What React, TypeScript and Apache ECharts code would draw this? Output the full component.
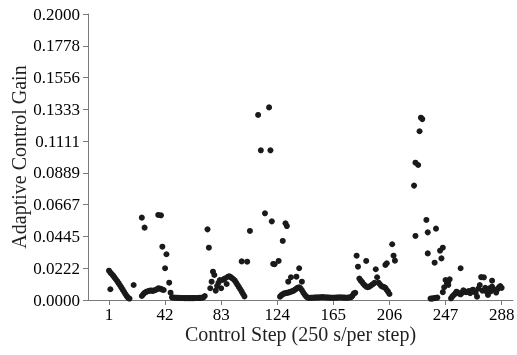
import React, { useEffect, useRef } from "react";
import * as echarts from "echarts";

// Control step (x) and adaptive control gain (y) of each plotted point
const steps = [
  1, 2, 2, 3, 4, 5, 6, 7, 8, 9, 10, 11, 12, 13, 14, 15, 16, 19,
  25, 25, 26, 27, 27, 28, 29, 30, 31, 32, 33, 34, 35, 36, 37, 37, 38, 39, 39, 40, 40, 41, 42, 43, 45, 46,
  47, 48, 49, 50, 51, 52, 53, 54, 55, 56, 57, 58, 59, 60, 61, 62, 63, 64, 65, 66, 67, 68, 69, 70, 71,
  73, 74, 75, 76, 77, 78, 79, 80, 81, 82, 83, 84, 85, 86, 87, 88, 89, 90, 91, 92, 93, 94, 95, 96, 97,
  98, 98, 99, 100, 102, 104, 110, 112, 115, 118, 119, 120, 121, 122, 125,
  126, 127, 128, 128, 129, 130, 130, 131, 131, 132, 132, 133, 134, 134, 135, 136, 137, 138, 138, 139,
  140, 140, 141, 142, 142, 143, 144, 145, 146, 147,
  148, 149, 150, 151, 152, 153, 154, 155, 156, 157, 158, 159, 160, 161, 162, 163, 164, 165, 166, 167,
  168, 169, 170, 171, 172, 173, 174, 175, 176, 177, 178, 179, 180, 181,
  182, 183, 184, 185, 186, 187, 188, 189, 189, 190, 191, 192, 193, 194, 195, 196, 197, 198, 199, 200,
  201, 202, 203, 203, 204, 204, 205, 206, 208, 209, 210,
  224, 225, 225, 227, 228, 229, 230, 233, 234, 234, 236, 237, 238, 239, 239, 240, 240, 241,
  243, 244, 245, 245, 246, 247, 248, 249, 249, 250,
  251, 252, 253, 254, 255, 256, 257, 258, 258, 259, 260, 261, 262, 263, 264, 265, 266, 267, 268, 269,
  270, 271, 272, 273, 274, 275, 276, 277, 278, 279, 280, 281, 281, 282, 283, 284, 285, 286, 287, 288,
];

const gains = [
  0.0205, 0.0075, 0.0192, 0.0182, 0.017, 0.0158, 0.0145, 0.0132, 0.0118, 0.0103, 0.0088, 0.0072, 0.0057, 0.0042, 0.0027, 0.0015, 0.001, 0.0105,
  0.0028, 0.0576, 0.004, 0.0506, 0.005, 0.0056, 0.006, 0.0063, 0.0066, 0.0066, 0.0064, 0.0067, 0.007, 0.0075, 0.0595, 0.0082, 0.008, 0.0592, 0.0078, 0.0373, 0.0072, 0.007, 0.0222, 0.032, 0.0121, 0.0051,
  0.0019, 0.0017, 0.0016, 0.0016, 0.0015, 0.0015, 0.0014, 0.0014, 0.0014, 0.0013, 0.0013, 0.0013, 0.0013, 0.0013, 0.0013, 0.0013, 0.0013, 0.0014, 0.0014, 0.0014, 0.0015, 0.0015, 0.0016, 0.0018, 0.0028,
  0.0494, 0.0366, 0.0082, 0.0128, 0.0198, 0.0175, 0.0065, 0.0098, 0.012, 0.014, 0.0082, 0.014, 0.0146, 0.0152, 0.0112, 0.0163, 0.0166, 0.016, 0.0152, 0.0145, 0.0135, 0.012, 0.0105, 0.009, 0.0075,
  0.027, 0.0058, 0.0042, 0.0025, 0.0268, 0.0483, 0.1294, 0.1047, 0.0606, 0.1347, 0.1047, 0.055, 0.0252, 0.025, 0.0273,
  0.0023, 0.0034, 0.0413, 0.004, 0.0046, 0.0536, 0.0048, 0.0517, 0.005, 0.0128, 0.0052, 0.0055, 0.0159, 0.0058, 0.0062, 0.0066, 0.0072, 0.0163, 0.008, 0.0086,
  0.0222, 0.0089, 0.0082, 0.0128, 0.0068, 0.0052, 0.0038, 0.0026, 0.0018, 0.0015,
  0.0015, 0.0016, 0.0016, 0.0017, 0.0017, 0.0018, 0.0018, 0.0018, 0.0019, 0.002, 0.0019, 0.0018, 0.0018, 0.0017, 0.0017, 0.0016, 0.0016, 0.0016, 0.0016, 0.0017,
  0.0017, 0.0018, 0.0018, 0.0018, 0.0017, 0.0017, 0.0016, 0.0016, 0.0017, 0.0018, 0.002, 0.003, 0.0047, 0.005,
  0.031, 0.0233, 0.015, 0.0135, 0.0125, 0.0112, 0.0102, 0.0273, 0.0094, 0.009, 0.0092, 0.0098, 0.0105, 0.0112, 0.012, 0.0215, 0.0159, 0.0121, 0.011, 0.0098,
  0.0094, 0.009, 0.0245, 0.0085, 0.0257, 0.007, 0.0058, 0.0042, 0.039, 0.031, 0.0275,
  0.08, 0.0448, 0.096, 0.0944, 0.118, 0.1275, 0.1265, 0.056, 0.0326, 0.0473, 0.001, 0.001, 0.0012, 0.0261, 0.0014, 0.0499, 0.0015, 0.0017,
  0.0345, 0.0291, 0.0366, 0.0055, 0.0089, 0.014, 0.0117, 0.0128, 0.0105, 0.0145,
  0.0012, 0.0025, 0.0035, 0.0045, 0.0058, 0.0052, 0.0045, 0.0222, 0.004, 0.005, 0.0068, 0.006, 0.0055, 0.0058, 0.0062, 0.0048, 0.0066, 0.0072, 0.006, 0.005,
  0.0023, 0.008, 0.0105, 0.016, 0.0065, 0.0158, 0.0085, 0.0058, 0.0035, 0.0082, 0.006, 0.0135, 0.0093, 0.0078, 0.007, 0.0052, 0.0075, 0.0089, 0.0098, 0.0085,
];

const xTickValues = [1, 42, 83, 124, 165, 206, 247, 288];
const yTickLabels = [
  "0.0000", "0.0222", "0.0445", "0.0667", "0.0889",
  "0.1111", "0.1333", "0.1556", "0.1778", "0.2000",
];

const FONT = "serif";
const TEXT = "#231f20";
const AXIS = "#7a7a7a";
const X_MIN = -14.35;
const X_MAX = 296.3;

export default function App() {
  const ref = useRef<HTMLDivElement>(null);

  useEffect(() => {
    if (!ref.current) return;
    const chart = echarts.init(ref.current, null, { renderer: "svg" });
    const yInterval = 0.2 / 9;
    chart.setOption({
      animation: false,
      grid: { left: 88, right: 4, top: 14, bottom: 55 },
      xAxis: {
        type: "value",
        min: X_MIN,
        max: X_MAX,
        name: "Control Step (250 s/per step)",
        nameLocation: "middle",
        nameGap: 24,
        nameTextStyle: { fontFamily: FONT, fontSize: 20, color: TEXT },
        axisLine: { show: true, onZero: false, lineStyle: { color: AXIS, width: 1 } },
        axisTick: {
          show: true,
          customValues: xTickValues,
          length: 5,
          lineStyle: { color: AXIS, width: 1 },
        },
        axisLabel: { show: false },
        splitLine: { show: false },
      },
      yAxis: {
        type: "value",
        min: 0,
        max: 0.2,
        interval: yInterval,
        name: "Adaptive Control Gain",
        nameLocation: "middle",
        nameGap: 59,
        nameTextStyle: { fontFamily: FONT, fontSize: 20, color: TEXT },
        axisLine: { show: true, onZero: false, lineStyle: { color: AXIS, width: 1 } },
        axisTick: { show: true, length: 5, lineStyle: { color: AXIS, width: 1 } },
        axisLabel: { show: false },
        splitLine: { show: false },
      },
      series: [
        {
          type: "scatter",
          data: steps.map((s, i) => [s, gains[i]]),
          symbol: "circle",
          symbolSize: 6,
          itemStyle: { color: "#1a1a1a", opacity: 1 },
        },
      ],
    });

    // Tick labels placed through the axes' own scales
    const xLabels = xTickValues.map((v) => {
      const p = chart.convertToPixel({ gridIndex: 0 }, [v, 0]) as number[];
      return {
        type: "text",
        x: p[0],
        y: p[1] + 6,
        style: {
          text: String(v),
          fontFamily: "Liberation Serif",
          fontSize: 17,
          align: "center",
          verticalAlign: "top",
        },
      };
    });
    const yLabels = yTickLabels.map((label, i) => {
      const p = chart.convertToPixel({ gridIndex: 0 }, [X_MIN, i * yInterval]) as number[];
      return {
        type: "text",
        x: p[0] - 8,
        y: p[1],
        style: {
          text: label,
          fontFamily: "Liberation Serif",
          fontSize: 17,
          align: "right",
          verticalAlign: "middle",
        },
      };
    });
    chart.setOption({ graphic: [...xLabels, ...yLabels] });

    return () => chart.dispose();
  }, []);

  return (
    <div
      ref={ref}
      style={{ position: "fixed", left: 0, top: 0, width: 517, height: 355 }}
    />
  );
}
